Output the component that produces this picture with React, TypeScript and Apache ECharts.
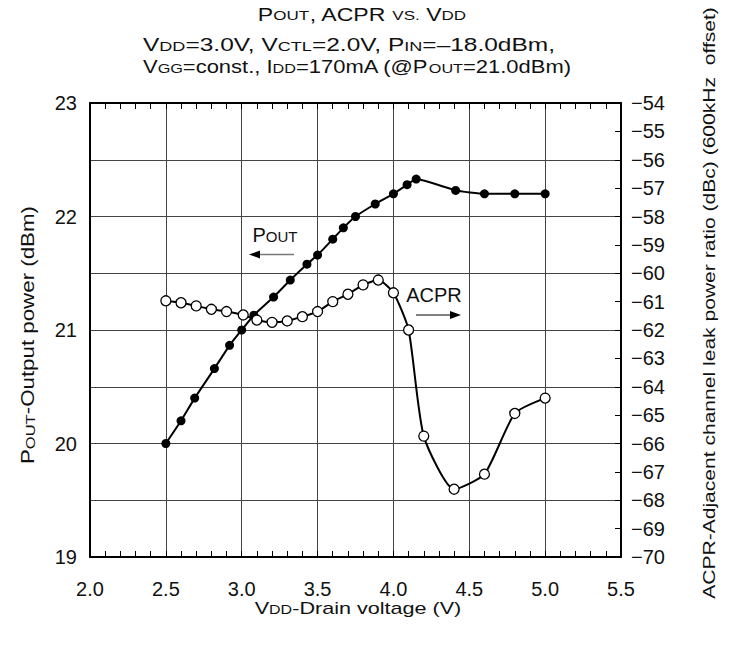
import React, { useEffect, useRef } from 'react';
import * as echarts from 'echarts';

// ---- Data ----
const poutVdd = [2.5, 2.6, 2.69, 2.82, 2.92, 3.0, 3.08, 3.21, 3.32, 3.43, 3.5, 3.6, 3.67, 3.75, 3.88, 4.0, 4.09, 4.15, 4.41, 4.6, 4.8, 5.0];
const poutDbm = [20.0, 20.2, 20.4, 20.66, 20.865, 21.0, 21.13, 21.29, 21.44, 21.58, 21.66, 21.8, 21.9, 22.0, 22.11, 22.2, 22.28, 22.33, 22.23, 22.2, 22.2, 22.2];

const acprVdd = [2.5, 2.6, 2.7, 2.8, 2.9, 3.01, 3.1, 3.2, 3.3, 3.4, 3.5, 3.6, 3.7, 3.8, 3.9, 4.0, 4.1, 4.2, 4.4, 4.6, 4.8, 5.0];
const acprDbc = [-60.97, -61.04, -61.15, -61.27, -61.35, -61.47, -61.65, -61.73, -61.68, -61.53, -61.35, -61.0, -60.74, -60.41, -60.24, -60.69, -62.0, -65.74, -67.61, -67.08, -64.94, -64.4];

const xRange = [2.0, 5.5];
const leftRange = [19, 23];
const rightRange = [-70, -54];

const FONT = '"Liberation Sans", Arial, Helvetica, sans-serif';

function rich(big: number, small: number) {
  const shift = Math.max(0, Math.round((big - small) * 0.7 * 10) / 10);
  return {
    b: { fontSize: big, fontFamily: FONT, fill: '#111', color: '#111', lineHeight: big + 4 },
    s: { fontSize: small, fontFamily: FONT, fill: '#111', color: '#111', lineHeight: big + 4, padding: [shift, 0, 0, 0] },
  };
}

function txt(text: string, x: number, y: number, opts: any = {}) {
  const big = opts.big ?? 18;
  const small = opts.small ?? Math.round(big * 0.74 * 10) / 10;
  return {
    type: 'text',
    x,
    y,
    rotation: opts.rotation ?? 0,
    scaleX: opts.scaleX ?? 1,
    style: {
      text,
      align: opts.align ?? 'center',
      verticalAlign: 'middle',
      textAlign: opts.align ?? 'center',
      textVerticalAlign: 'middle',
      fontFamily: FONT,
      fontSize: big,
      fill: '#111',
      rich: rich(big, small),
    },
    z: 100,
  };
}

export default function App() {
  const ref = useRef<HTMLDivElement>(null);

  useEffect(() => {
    document.body.style.margin = '0';
    if (!ref.current) return;
    const chart = echarts.init(ref.current, undefined, { renderer: 'svg' });

    const poutData = poutVdd.map((v, i) => [v, poutDbm[i]]);
    const acprData = acprVdd.map((v, i) => [v, acprDbc[i]]);

    const gridLine = { show: true, lineStyle: { color: '#444', width: 1 } };
    const frame = { show: true, onZero: false, lineStyle: { color: '#000', width: 2 } };

    const option: any = {
      animation: false,
      backgroundColor: '#fff',
      grid: { left: 90, right: 110, top: 103, bottom: 94, containLabel: false },
      xAxis: [
        {
          type: 'value',
          position: 'bottom',
          min: xRange[0],
          max: xRange[1],
          interval: 0.5,
          axisLine: frame,
          axisTick: { show: true, inside: true, length: 6, lineStyle: { color: '#000' } },
          minorTick: { show: true, splitNumber: 5, length: 6, lineStyle: { color: '#000' } },
          splitLine: gridLine,
          axisLabel: {
            show: true,
            margin: 22,
            fontSize: 20,
            fontFamily: FONT,
            color: '#111',
            formatter: (v: number) => v.toFixed(1),
          },
        },
        {
          type: 'value',
          position: 'top',
          min: xRange[0],
          max: xRange[1],
          interval: 0.5,
          axisLine: frame,
          axisTick: { show: true, inside: true, length: 6, lineStyle: { color: '#000' } },
          minorTick: { show: true, splitNumber: 5, length: 6, lineStyle: { color: '#000' } },
          splitLine: { show: false },
          axisLabel: { show: false },
        },
      ],
      yAxis: [
        {
          type: 'value',
          position: 'left',
          min: leftRange[0],
          max: leftRange[1],
          interval: 0.5,
          axisLine: frame,
          axisTick: { show: false },
          splitLine: gridLine,
          axisLabel: {
            margin: 13,
            fontSize: 20,
            fontFamily: FONT,
            color: '#111',
            formatter: (v: number) => (Number.isInteger(v) ? String(v) : ''),
          },
        },
        {
          type: 'value',
          position: 'right',
          min: rightRange[0],
          max: rightRange[1],
          interval: 1,
          axisLine: frame,
          axisTick: { show: true, inside: true, length: 6, lineStyle: { color: '#000' } },
          splitLine: { show: false },
          axisLabel: {
            margin: 10,
            fontSize: 20,
            fontFamily: FONT,
            color: '#111',
            formatter: (v: number) => (v < 0 ? '\u2212' + Math.abs(v) : String(v)),
          },
        },
      ],
      series: [
        {
          name: 'POUT',
          type: 'line',
          xAxisIndex: 0,
          yAxisIndex: 0,
          data: poutData,
          smooth: 0.15,
          symbol: 'circle',
          symbolSize: 9,
          lineStyle: { color: '#000', width: 2 },
          itemStyle: { color: '#000', borderColor: '#000', borderWidth: 0 },
          z: 5,
        },
        {
          name: 'ACPR',
          type: 'line',
          xAxisIndex: 0,
          yAxisIndex: 1,
          data: acprData,
          smooth: 0.2,
          symbol: 'circle',
          symbolSize: 10,
          lineStyle: { color: '#000', width: 2 },
          itemStyle: { color: '#fff', borderColor: '#000', borderWidth: 1.3 },
          z: 6,
        },
      ],
      graphic: [
        // Title & conditions
        txt('{b|P}{s|OUT}{b|, ACPR }{s|VS.}{b| V}{s|DD}', 362, 14, { scaleX: 1.28 }),
        txt('{b|V}{s|DD}{b|=3.0V, V}{s|CTL}{b|=2.0V, P}{s|IN}{b|=\u201318.0dBm,}', 143, 45, { align: 'left', scaleX: 1.36 }),
        txt('{b|V}{s|GG}{b|=const., I}{s|DD}{b|=170mA (@P}{s|OUT}{b|=21.0dBm)}', 143, 67, { align: 'left', scaleX: 1.22 }),
        // Axis names
        txt('{b|V}{s|DD}{b|-Drain voltage (V)}', 358, 608, { big: 17, scaleX: 1.27 }),
        txt('{b|P}{s|OUT}{b|-Output power (dBm)}', 28, 335, { rotation: Math.PI / 2, scaleX: 1.24 }),
        txt('{b|ACPR-Adjacent channel leak power ratio (dBc) (600kHz\u00a0\u00a0offset)}', 709, 303, { big: 17, rotation: Math.PI / 2, scaleX: 1.24 }),
        // POUT annotation
        txt('{b|P}{s|OUT}', 275, 235, { big: 20, small: 15 }),
        { type: 'line', shape: { x1: 258, y1: 254.5, x2: 294, y2: 254.5 }, style: { stroke: '#777', lineWidth: 1.5 }, z: 100 },
        { type: 'polygon', shape: { points: [[249, 254.5], [260, 250.5], [260, 258.5]] }, style: { fill: '#000' }, z: 100 },
        // ACPR annotation
        txt('{b|ACPR}', 434, 295, { big: 20, small: 15 }),
        { type: 'line', shape: { x1: 416, y1: 315, x2: 452, y2: 315 }, style: { stroke: '#555', lineWidth: 1.5 }, z: 100 },
        { type: 'polygon', shape: { points: [[461, 315], [450, 311], [450, 319]] }, style: { fill: '#000' }, z: 100 },
      ],
    };

    chart.setOption(option);
    return () => chart.dispose();
  }, []);

  return <div ref={ref} style={{ width: 731, height: 651 }} />;
}
